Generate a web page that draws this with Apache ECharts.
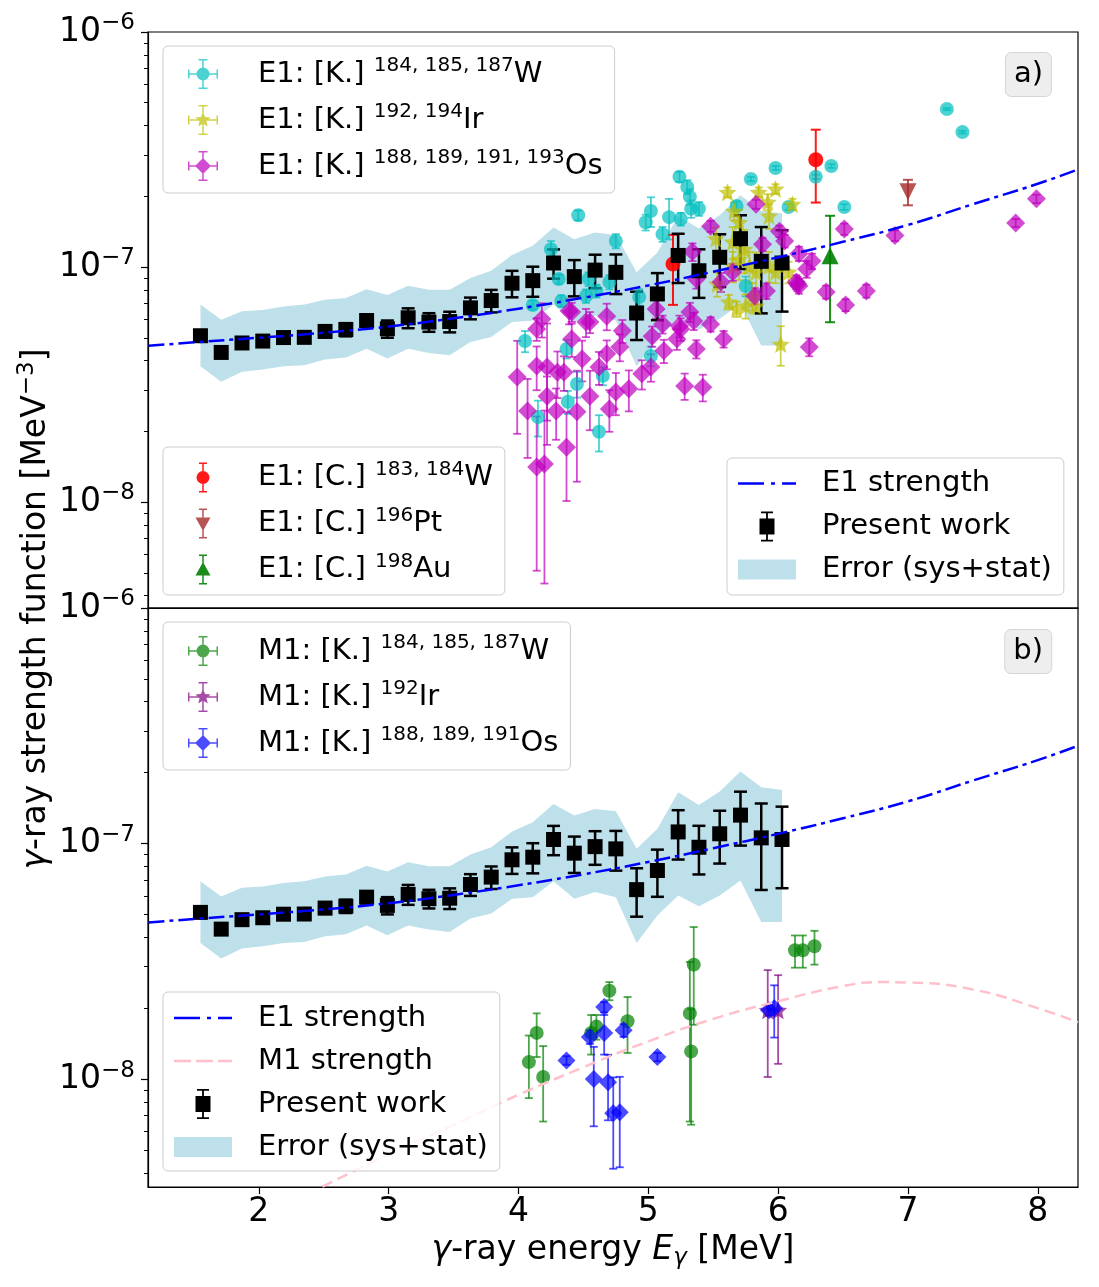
<!DOCTYPE html>
<html>
<head>
<meta charset="utf-8">
<title>gamma-ray strength function</title>
<script src="https://cdn.jsdelivr.net/npm/echarts@6.0.0/dist/echarts.min.js"></script>
<style>
  html, body { margin: 0; padding: 0; background: #fff; }
  #chart { width: 1099px; height: 1287px; }
</style>
</head>
<body>
<div id="chart"></div>
<script>
// strengths are written in units of 1e-8 MeV^-3, energies in MeV
const UNIT = 1e-8;

// present work (same points in both panels)
const pwE = [1.55, 1.71, 1.87, 2.03, 2.19, 2.35, 2.51, 2.67, 2.83, 2.99, 3.15, 3.31, 3.47, 3.63, 3.79,
  3.95, 4.11, 4.27, 4.43, 4.59, 4.75, 4.91, 5.07, 5.23, 5.39, 5.55, 5.71, 5.87, 6.03];
const pwF = [5.1, 4.33, 4.75, 4.84, 5.01, 5.02, 5.32, 5.42, 5.92, 5.46, 6.08, 5.83, 5.86, 6.7, 7.2,
  8.53, 8.75, 10.4, 9.1, 9.7, 9.49, 6.37, 7.68, 11.2, 9.64, 11.0, 13.2, 10.57, 10.4];
const pwErr = [0.15, 0.2, 0.2, 0.2, 0.25, 0.25, 0.3, 0.35, 0.35, 0.46, 0.59, 0.53, 0.59, 0.71, 0.79,
  1.1, 1.28, 1.48, 1.6, 1.58, 1.82, 1.48, 1.74, 2.65, 2.25, 2.78, 3.4, 4.22, 3.94];
// error band (sys+stat)
const bandLo = [3.78, 3.25, 3.58, 3.66, 3.78, 3.82, 4.04, 4.12, 4.49, 4.08, 4.49, 4.31, 4.21, 4.80, 5.04,
  5.83, 5.92, 6.92, 5.83, 6.22, 5.92, 3.78, 4.95, 6.02, 5.42, 6.02, 6.97, 4.64, 4.64];
const bandHi = [6.92, 5.96, 6.49, 6.57, 6.79, 6.92, 7.25, 7.39, 8.04, 7.61, 8.33, 8.01, 8.01, 8.98, 9.64,
  11.24, 12.31, 14.73, 13.14, 14.03, 13.7, 9.5, 11.54, 16.5, 14.59, 16.61, 20.2, 17.33, 16.89];

// E1 and M1 strength curves
const e1E = [1.15, 1.5, 2.0, 2.5, 3.0, 3.5, 4.0, 4.5, 5.0, 5.5, 6.0, 6.5, 7.0, 7.5, 8.0, 8.31];
const e1F = [4.62, 4.78, 5.0, 5.25, 5.58, 6.05, 6.65, 7.4, 8.35, 9.55, 11.0, 12.8, 15.1, 18.5, 22.6, 26.0];
const m1E = [2.49, 3.0, 3.5, 4.0, 4.5, 5.0, 5.5, 6.0, 6.5, 6.8, 7.0, 7.5, 8.0, 8.31];
const m1F = [0.349, 0.479, 0.638, 0.857, 1.122, 1.445, 1.80, 2.14, 2.48, 2.58, 2.57, 2.40, 2.0, 1.74];

// E1 [K.] 184,185,187W
const kWE = [4.05, 4.11, 4.25, 4.33, 4.31, 4.37, 4.45, 4.38, 4.15, 4.46, 4.52, 4.60, 4.65, 4.62, 4.75,
  4.70, 4.93, 5.02, 5.02, 4.98, 5.16, 5.11, 5.24, 5.30, 5.32, 5.33, 5.39, 5.25, 5.79, 5.98,
  6.08, 5.75, 5.68, 6.29, 6.41, 6.51, 7.30, 7.42, 4.54];
const kWF = [4.84, 6.89, 11.9, 7.17, 8.89, 4.48, 3.18, 2.67, 2.30, 16.6, 7.53, 7.91, 3.44, 1.99, 12.9,
  8.63, 7.45, 4.18, 17.3, 15.5, 16.3, 13.8, 24.2, 21.9, 19.9, 17.7, 17.7, 16.0, 23.7, 26.4,
  18.0, 8.3, 18.2, 24.2, 26.9, 18.0, 47.0, 37.5, 8.89];
const kWErr = [0.5, 0.3, 1.0, 0.4, 0.4, 0.4, 0.4, 0.3, 0.4, 0.8, 0.5, 0.5, 0.3, 0.35, 0.9,
  0.6, 0.6, 0.4, 2.5, 1.2, 3.2, 1.0, 1.2, 1.5, 1.5, 1.5, 1.2, 1.0, 0.5, 0.5,
  0.5, 0.8, 0.8, 0.5, 0.5, 0.5, 0.5, 0.5, 0.6];

// E1 [K.] 192,194Ir
const kIrE = [5.61, 5.66, 5.85, 5.98, 6.11, 5.92, 5.93, 5.70, 5.52, 5.65, 5.74, 5.70, 5.78, 5.65, 5.83,
  5.93, 5.98, 6.08, 5.62, 5.68, 5.75, 5.80, 5.83, 6.02, 5.53];
const kIrF = [20.8, 17.3, 20.8, 21.5, 18.5, 18.9, 16.5, 15.5, 13.2, 12.8, 11.9, 10.8, 10.1, 10.1, 9.53,
  10.1, 9.53, 9.53, 7.1, 6.63, 6.83, 7.53, 6.83, 4.7, 8.47];
const kIrErr = [1.0, 1.5, 1.0, 1.0, 1.0, 1.5, 2.0, 2.0, 1.5, 2.0, 2.5, 2.0, 1.5, 1.5, 2.0,
  1.5, 1.0, 1.0, 0.5, 0.5, 0.8, 1.0, 0.5, 0.9, 1.0];

// E1 [K.] 188,189,191,193Os
const kOsE = [3.99, 4.07, 4.14, 4.20, 4.14, 4.18, 4.14, 4.22, 4.29, 4.37, 4.22, 4.45, 4.30, 4.35, 4.39,
  4.41, 4.49, 4.52, 4.55, 4.62, 4.68, 4.68, 4.75, 4.70, 4.78, 4.80, 4.85, 4.95, 5.02, 5.03,
  5.12, 5.22, 5.25, 5.32, 5.35, 5.37, 5.48, 5.58, 5.28, 5.42, 5.91, 6.16, 6.24, 5.48, 5.83,
  5.88, 6.05, 6.01, 5.65, 5.56, 5.82, 5.34, 5.37, 6.14, 5.24, 5.06, 5.11, 4.41, 4.55, 6.51,
  6.16, 6.26, 6.22, 6.15, 6.37, 6.52, 6.68, 6.90, 7.83, 7.99];
const kOsF = [3.40, 2.44, 1.41, 1.45, 5.45, 6.01, 3.79, 3.75, 2.44, 1.71, 2.82, 2.42, 3.57, 3.57, 6.5,
  4.94, 4.06, 5.83, 2.82, 3.75, 6.18, 4.27, 2.94, 2.49, 4.57, 5.35, 3.03, 3.51, 3.75, 5.08,
  4.40, 4.94, 5.45, 6.44, 5.89, 4.48, 5.71, 4.94, 3.12, 3.08, 7.91, 8.3, 4.57, 14.9, 18.5,
  12.5, 12.9, 14.2, 9.53, 8.63, 7.53, 11.6, 8.89, 8.63, 5.61, 6.63, 5.71, 6.44, 5.83, 14.5,
  11.4, 10.6, 9.8, 8.47, 7.83, 6.89, 7.91, 13.6, 15.4, 19.5];
const kOsErr = [1.45, 0.9, 0.9, 1.0, 0.6, 1.0, 0.8, 2.0, 0.6, 0.7, 0.6, 1.2, 0.8, 0.6, 0.8,
  0.8, 0.8, 0.8, 0.8, 0.6, 0.8, 0.6, 0.6, 0.5, 0.6, 0.6, 0.6, 0.5, 0.5, 0.5,
  0.5, 0.5, 0.6, 0.6, 0.5, 0.4, 0.4, 0.4, 0.4, 0.4, 0.6, 0.6, 0.4, 0.8, 0.8,
  0.8, 0.8, 0.8, 0.8, 0.8, 0.6, 1.0, 0.8, 0.6, 0.6, 0.6, 0.5, 0.6, 0.6, 0.8,
  0.8, 0.8, 0.8, 0.6, 0.5, 0.4, 0.5, 0.7, 0.6, 0.8];

// E1 [C.] data
const cWE = [5.19, 6.29];
const cWF = [10.3, 28.6];
const cWErr = [3.4, 9.8];
const cPtE = [7.0];
const cPtF = [20.9];
const cPtErr = [2.6];
const cAuE = [6.40];
const cAuF = [11.17];
const cAuErr = [5.35];

// M1 [K.] data (lower panel)
const mWE = [4.08, 4.14, 4.19, 4.70, 4.60, 4.56, 4.84, 5.35, 5.32, 5.33, 6.13, 6.19, 6.28];
const mWF = [1.18, 1.57, 1.02, 2.37, 1.67, 1.57, 1.76, 3.06, 1.90, 1.31, 3.52, 3.52, 3.66];
const mWErr = [0.35, 0.33, 0.36, 0.21, 0.2, 0.3, 0.47, 1.36, 1.24, 0.67, 0.55, 0.55, 0.6];
const mIrE = [5.92, 6.00];
const mIrF = [1.96, 1.96];
const mIrErr = [0.94, 0.8];
const mOsE = [4.37, 4.55, 4.66, 4.66, 4.81, 4.58, 4.69, 4.73, 4.78, 5.07, 5.97, 5.93];
const mOsF = [1.20, 1.51, 2.02, 1.57, 1.61, 1.00, 0.968, 0.716, 0.722, 1.24, 2.00, 1.96];
const mOsErr = [0.05, 0.1, 0.1, 0.3, 0.1, 0.37, 0.3, 0.3, 0.3, 0.05, 0.5, 0.1];

// axis ticks
const xTicks = [2, 3, 4, 5, 6, 7, 8];
const yTicks = [1e-8, 1e-7, 1e-6];

const FONT = 'DejaVu Sans';
const X_MIN = 1.146, X_MAX = 8.31;
const Y_MAX = 1e-6, Y_MIN_TOP = 3.54e-9, Y_MIN_BOT = 3.48e-9;

const C_CYAN = '#00bfbf', C_YEL = '#bfbf00', C_MAG = '#bf00bf';
const C_RED = '#ff0000', C_BROWN = '#a52a2a', C_GREEN = '#008000';
const C_PURPLE = '#800080', C_BLUE = '#0000ff', C_BAND = '#add8e6', C_PINK = '#ffc0cb';

// minor ticks 2..9 x 10^n
const minorTicks = [];
[-9, -8, -7].forEach(function (e) {
  for (let m = 2; m <= 9; m++) minorTicks.push(m * Math.pow(10, e));
});

function pts(xs, ys) {
  return xs.map(function (x, i) { return [x, ys[i] * UNIT]; });
}
function bars(xs, ys, errs) {
  return xs.map(function (x, i) {
    return [x, Math.max(ys[i] - errs[i], 0.001) * UNIT, (ys[i] + errs[i]) * UNIT];
  });
}

// --- symbol paths (legend icons and star marker) ---
function rectP(x0, y0, x1, y1) {
  return 'M' + x0 + ',' + y0 + 'L' + x1 + ',' + y0 + 'L' + x1 + ',' + y1 + 'L' + x0 + ',' + y1 + 'Z';
}
function circleP(cx, cy, r) {
  return 'M' + (cx - r) + ',' + cy + 'A' + r + ',' + r + ' 0 1,1 ' + (cx + r) + ',' + cy +
    'A' + r + ',' + r + ' 0 1,1 ' + (cx - r) + ',' + cy + 'Z';
}
function diamondP(cx, cy, r) {
  return 'M' + cx + ',' + (cy - r) + 'L' + (cx + r) + ',' + cy + 'L' + cx + ',' + (cy + r) + 'L' + (cx - r) + ',' + cy + 'Z';
}
function starP(cx, cy, r) {
  let d = '';
  for (let k = 0; k < 10; k++) {
    const a = -Math.PI / 2 + k * Math.PI / 5;
    const rr = k % 2 ? r * 0.45 : r;
    d += (k ? 'L' : 'M') + (cx + rr * Math.cos(a)).toFixed(2) + ',' + (cy + rr * Math.sin(a)).toFixed(2);
  }
  return d + 'Z';
}
function triUpP(cx, cy, r) {
  return 'M' + cx + ',' + (cy - r) + 'L' + (cx + r) + ',' + (cy + r * 0.8) + 'L' + (cx - r) + ',' + (cy + r * 0.8) + 'Z';
}
function triDownP(cx, cy, r) {
  return 'M' + (cx - r) + ',' + (cy - r * 0.8) + 'L' + (cx + r) + ',' + (cy - r * 0.8) + 'L' + cx + ',' + (cy + r) + 'Z';
}
// legend icons live in a 58 x 30 frame; the empty corner points keep that frame
// as the icon's bounding box so it is centred like matplotlib's handles
const FRAME = 'M0,0L0,0ZM58,30L58,30Z';
// marker with x and y error bars
function iconXY(marker) {
  return 'path://' + FRAME + rectP(28.25, 0, 29.75, 30) + rectP(24.5, 0, 33.5, 1.5) + rectP(24.5, 28.5, 33.5, 30) +
    rectP(14, 14.25, 44, 15.75) + rectP(14, 10.5, 15.5, 19.5) + rectP(42.5, 10.5, 44, 19.5) + marker;
}
// marker with y error bar only
function iconV(marker) {
  return 'path://' + FRAME + rectP(28.25, 0, 29.75, 30) + rectP(25, 0, 33, 1.5) + rectP(25, 28.5, 33, 30) + marker;
}
const ICON_PW = 'path://' + FRAME + rectP(28.1, 0, 29.9, 30) + rectP(23, 0, 35, 1.8) + rectP(23, 28.2, 35, 30) + rectP(21.5, 7, 36.5, 23);
const ICON_BAND = 'path://' + FRAME + rectP(0, 5, 58, 25);
const ICON_E1 = 'path://' + FRAME + rectP(0, 13.7, 26, 16.3) + rectP(33, 13.7, 37, 16.3) + rectP(44, 13.7, 58, 16.3);
const ICON_M1 = 'path://' + FRAME + rectP(0, 13.7, 17, 16.3) + rectP(22, 13.7, 39, 16.3) + rectP(44, 13.7, 58, 16.3);
const STAR = 'path://' + starP(10, 10, 10);

// --- series builders ---
function errSeries(name, panel, xs, ys, errs, color, opacity, cap, width) {
  return {
    name: name, type: 'custom', xAxisIndex: panel, yAxisIndex: panel, clip: true, silent: true,
    data: bars(xs, ys, errs),
    encode: { x: 0, y: [1, 2] },
    renderItem: function (params, api) {
      const top = api.coord([api.value(0), api.value(2)]);
      const bot = api.coord([api.value(0), api.value(1)]);
      const st = { stroke: color, lineWidth: width, opacity: opacity };
      return {
        type: 'group', children: [
          { type: 'line', shape: { x1: top[0], y1: top[1], x2: bot[0], y2: bot[1] }, style: st },
          { type: 'line', shape: { x1: top[0] - cap, y1: top[1], x2: top[0] + cap, y2: top[1] }, style: st },
          { type: 'line', shape: { x1: bot[0] - cap, y1: bot[1], x2: bot[0] + cap, y2: bot[1] }, style: st }
        ]
      };
    }
  };
}
function markSeries(name, panel, xs, ys, symbol, size, color, opacity, rotate) {
  return {
    name: name, type: 'scatter', xAxisIndex: panel, yAxisIndex: panel, silent: true,
    symbol: symbol, symbolSize: size, symbolRotate: rotate || 0,
    itemStyle: { color: color, opacity: opacity },
    data: pts(xs, ys)
  };
}
function dataSet(name, panel, xs, ys, errs, symbol, size, color, opacity, cap, width, rotate) {
  return [
    errSeries(name, panel, xs, ys, errs, color, opacity, cap, width),
    markSeries(name, panel, xs, ys, symbol, size, color, opacity, rotate)
  ];
}
function bandSeries(panel) {
  return {
    name: 'Error (sys+stat)', type: 'custom', xAxisIndex: panel, yAxisIndex: panel, silent: true,
    itemStyle: { color: C_BAND },
    data: pwE.map(function (x, i) { return [x, bandLo[i] * UNIT, bandHi[i] * UNIT]; }),
    encode: { x: 0, y: [1, 2] },
    renderItem: function (params, api) {
      if (params.dataIndex !== 0) return null;
      const up = pwE.map(function (x, i) { return api.coord([x, bandHi[i] * UNIT]); });
      const dn = pwE.map(function (x, i) { return api.coord([x, bandLo[i] * UNIT]); }).reverse();
      return { type: 'polygon', shape: { points: up.concat(dn) }, style: { fill: C_BAND, opacity: 0.8 } };
    }
  };
}
function e1Line(panel) {
  return {
    name: 'E1 strength', type: 'line', xAxisIndex: panel, yAxisIndex: panel, silent: true,
    data: pts(e1E, e1F), smooth: true, symbol: 'none', showSymbol: false,
    itemStyle: { color: '#0000ff' },
    lineStyle: { color: '#0000ff', width: 2.5, type: [16, 5, 4, 5] }
  };
}
function presentWork(panel) {
  return dataSet('Present work', panel, pwE, pwF, pwErr, 'rect', 15, '#000000', 1, 6.5, 2.5);
}

// --- axes ---
function xAxisFor(i) {
  return {
    type: 'value', gridIndex: i, min: X_MIN, max: X_MAX, position: 'bottom',
    axisLine: { onZero: false, lineStyle: { color: '#000', width: 1.2 } },
    axisTick: { show: i === 1, length: 7, lineStyle: { color: '#000', width: 1.2 }, customValues: xTicks },
    axisLabel: { show: i === 1, customValues: xTicks, margin: 9, color: '#000', fontFamily: FONT, fontSize: 33, lineHeight: 33 },
    splitLine: { show: false },
    name: i === 1 ? '{it|γ}-ray energy {it|E}{sub|γ} [MeV]' : '',
    nameLocation: 'middle', nameGap: 43,
    nameTextStyle: {
      color: '#000', fontFamily: FONT, fontSize: 33, lineHeight: 40,
      rich: {
        it: { fontFamily: FONT, fontSize: 33, fontStyle: 'italic', lineHeight: 40, color: '#000' },
        sub: { fontFamily: FONT, fontSize: 23, fontStyle: 'italic', lineHeight: 22, verticalAlign: 'bottom', color: '#000' }
      }
    }
  };
}
const tickRich = { sup: { fontFamily: FONT, fontSize: 23, lineHeight: 18, verticalAlign: 'top', color: '#000' } };
function yMajor(i, min) {
  return {
    type: 'log', logBase: 10, gridIndex: i, min: min, max: Y_MAX, position: 'left',
    axisLine: { onZero: false, lineStyle: { color: '#000', width: 1.2 } },
    axisTick: { length: 7, lineStyle: { color: '#000', width: 1.2 }, customValues: yTicks },
    axisLabel: {
      customValues: yTicks, margin: 13, color: '#000', fontFamily: FONT, fontSize: 33, lineHeight: 40,
      formatter: function (v) { return '10{sup|−' + Math.round(-Math.log10(v)) + '}'; },
      rich: tickRich
    },
    splitLine: { show: false }
  };
}
function yMinor(i, min) {
  return {
    type: 'log', logBase: 10, gridIndex: i, min: min, max: Y_MAX, position: 'left',
    axisLine: { show: false }, axisLabel: { show: false }, splitLine: { show: false },
    axisTick: { length: 4, lineStyle: { color: '#000', width: 1 }, customValues: minorTicks.filter(function (v) { return v > min; }) }
  };
}

// --- legends ---
const legendNames = {
  'E1 K W': 'E1: [K.] {sup|184, 185, 187}W',
  'E1 K Ir': 'E1: [K.] {sup|192, 194}Ir',
  'E1 K Os': 'E1: [K.] {sup|188, 189, 191, 193}Os',
  'E1 C W': 'E1: [C.] {sup|183, 184}W',
  'E1 C Pt': 'E1: [C.] {sup|196}Pt',
  'E1 C Au': 'E1: [C.] {sup|198}Au',
  'M1 K W': 'M1: [K.] {sup|184, 185, 187}W',
  'M1 K Ir': 'M1: [K.] {sup|192}Ir',
  'M1 K Os': 'M1: [K.] {sup|188, 189, 191}Os'
};
const legendRich = {
  gap: { width: 21 },
  sup: { fontFamily: FONT, fontSize: 20, lineHeight: 16, verticalAlign: 'top', color: '#000' }
};
function legendBox(pos, padding, lineH, data) {
  return Object.assign({
    orient: 'vertical', padding: padding, itemGap: 10, itemWidth: 58, itemHeight: 30,
    backgroundColor: 'rgba(255,255,255,0.8)', borderColor: '#cccccc', borderWidth: 1, borderRadius: 5,
    selectedMode: false,
    formatter: function (name) { return '{gap|}' + (legendNames[name] || name); },
    textStyle: { color: '#000', fontFamily: FONT, fontSize: 29, lineHeight: lineH, rich: legendRich },
    data: data
  }, pos);
}

const titleText = { fontFamily: FONT, fontSize: 29, fontWeight: 'normal', color: '#000', lineHeight: 33 };

const option = {
  animation: false,
  backgroundColor: '#ffffff',
  textStyle: { fontFamily: FONT },
  title: [
    { text: 'a)', right: 47, top: 52, padding: [6, 9], backgroundColor: '#eeeeee', borderColor: '#d5d5d5', borderWidth: 1, borderRadius: 6, textStyle: titleText },
    { text: 'b)', right: 47, top: 629, padding: [6, 9], backgroundColor: '#eeeeee', borderColor: '#d5d5d5', borderWidth: 1, borderRadius: 6, textStyle: titleText }
  ],
  grid: [
    { left: 148, top: 32, width: 930, height: 576, show: true, borderColor: '#000', borderWidth: 1.2 },
    { left: 148, top: 608, width: 930, height: 579, show: true, borderColor: '#000', borderWidth: 1.2 }
  ],
  xAxis: [xAxisFor(0), xAxisFor(1)],
  yAxis: [yMajor(0, Y_MIN_TOP), yMajor(1, Y_MIN_BOT), yMinor(0, Y_MIN_TOP), yMinor(1, Y_MIN_BOT)],
  legend: [
    legendBox({ left: 163, top: 46 }, [10, 12, 9, 11], 36, [
      { name: 'E1 K W', icon: iconXY(circleP(29, 15, 6.5)), itemStyle: { color: C_CYAN, opacity: 0.7 } },
      { name: 'E1 K Ir', icon: iconXY(starP(29, 15, 8)), itemStyle: { color: C_YEL, opacity: 0.7 } },
      { name: 'E1 K Os', icon: iconXY(diamondP(29, 15, 8)), itemStyle: { color: C_MAG, opacity: 0.7 } }
    ]),
    legendBox({ left: 163, top: 447 }, [12.5, 12, 7.5, 11], 36, [
      { name: 'E1 C W', icon: iconV(circleP(29, 15, 6.5)), itemStyle: { color: C_RED, opacity: 0.9 } },
      { name: 'E1 C Pt', icon: iconV(triDownP(29, 15, 7.5)), itemStyle: { color: C_BROWN, opacity: 0.8 } },
      { name: 'E1 C Au', icon: iconV(triUpP(29, 15, 7.5)), itemStyle: { color: C_GREEN, opacity: 0.9 } }
    ]),
    legendBox({ left: 727, top: 458 }, [9, 12, 9, 11], 33, [
      { name: 'E1 strength', icon: ICON_E1, itemStyle: { color: '#0000ff', opacity: 1 } },
      { name: 'Present work', icon: ICON_PW, itemStyle: { color: '#000', opacity: 1 } },
      { name: 'Error (sys+stat)', icon: ICON_BAND, itemStyle: { color: C_BAND, opacity: 0.8 } }
    ]),
    legendBox({ left: 163, top: 622 }, [11, 12, 9, 11], 36, [
      { name: 'M1 K W', icon: iconXY(circleP(29, 15, 6.5)), itemStyle: { color: C_GREEN, opacity: 0.7 } },
      { name: 'M1 K Ir', icon: iconXY(starP(29, 15, 8)), itemStyle: { color: C_PURPLE, opacity: 0.7 } },
      { name: 'M1 K Os', icon: iconXY(diamondP(29, 15, 8)), itemStyle: { color: C_BLUE, opacity: 0.7 } }
    ]),
    legendBox({ left: 163, top: 992 }, [9.5, 12, 7.5, 11], 33, [
      { name: 'E1 strength', icon: ICON_E1, itemStyle: { color: '#0000ff', opacity: 1 } },
      { name: 'M1 strength', icon: ICON_M1, itemStyle: { color: C_PINK, opacity: 1 } },
      { name: 'Present work', icon: ICON_PW, itemStyle: { color: '#000', opacity: 1 } },
      { name: 'Error (sys+stat)', icon: ICON_BAND, itemStyle: { color: C_BAND, opacity: 0.8 } }
    ])
  ],
  graphic: [{
    type: 'text', x: 36, y: 609, rotation: Math.PI / 2, silent: true,
    style: {
      text: '{it|γ}-ray strength function [MeV{sup|−3}]',
      fontFamily: FONT, fontSize: 33, fill: '#000',
      textAlign: 'center', textVerticalAlign: 'middle', align: 'center', verticalAlign: 'middle',
      lineHeight: 40,
      rich: {
        it: { fontFamily: FONT, fontSize: 33, fontStyle: 'italic', lineHeight: 40, fill: '#000' },
        sup: { fontFamily: FONT, fontSize: 23, lineHeight: 18, verticalAlign: 'top', fill: '#000' }
      }
    }
  }],
  series: [].concat(
    // panel a)
    [bandSeries(0), e1Line(0)],
    dataSet('E1 K W', 0, kWE, kWF, kWErr, 'circle', 14, C_CYAN, 0.7, 4, 1.8),
    dataSet('E1 K Ir', 0, kIrE, kIrF, kIrErr, STAR, 18, C_YEL, 0.7, 4, 1.8),
    dataSet('E1 K Os', 0, kOsE, kOsF, kOsErr, 'diamond', 19, C_MAG, 0.7, 4, 1.8),
    dataSet('E1 C W', 0, cWE, cWF, cWErr, 'circle', 15, C_RED, 0.9, 5, 2),
    dataSet('E1 C Pt', 0, cPtE, cPtF, cPtErr, 'triangle', 17, C_BROWN, 0.8, 5, 2, 180),
    dataSet('E1 C Au', 0, cAuE, cAuF, cAuErr, 'triangle', 17, C_GREEN, 0.9, 5, 2),
    presentWork(0),
    // panel b)
    [bandSeries(1), e1Line(1), {
      name: 'M1 strength', type: 'line', xAxisIndex: 1, yAxisIndex: 1, silent: true,
      data: pts(m1E, m1F), smooth: true, symbol: 'none', showSymbol: false, clip: true,
      itemStyle: { color: C_PINK },
      lineStyle: { color: C_PINK, width: 2.5, type: [11, 6] }
    }],
    dataSet('M1 K W', 1, mWE, mWF, mWErr, 'circle', 14, C_GREEN, 0.7, 4, 1.8),
    dataSet('M1 K Ir', 1, mIrE, mIrF, mIrErr, STAR, 18, C_PURPLE, 0.7, 4, 1.8),
    dataSet('M1 K Os', 1, mOsE, mOsF, mOsErr, 'diamond', 18, C_BLUE, 0.7, 4, 1.8),
    presentWork(1)
  )
};

const chart = echarts.init(document.getElementById('chart'));
chart.setOption(option);
</script>
</body>
</html>
